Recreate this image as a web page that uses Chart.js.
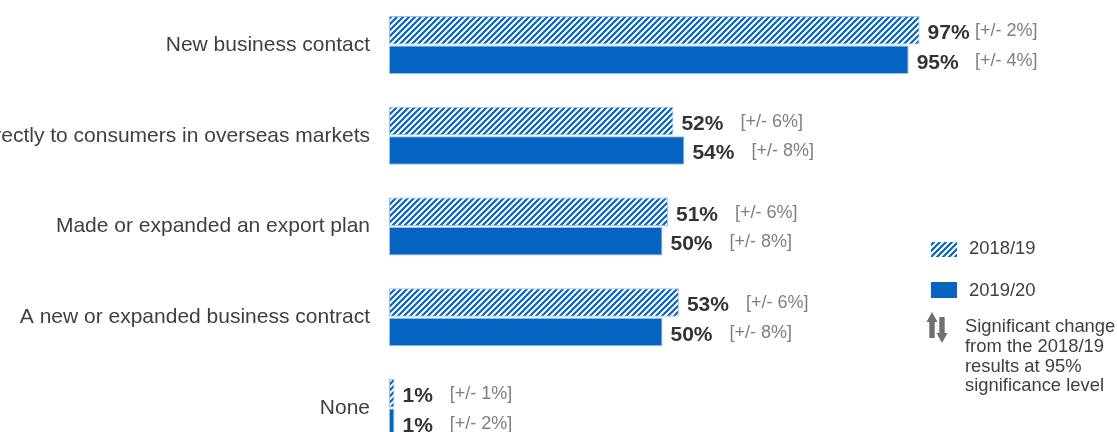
<!DOCTYPE html>
<html>
<head>
<meta charset="utf-8">
<script src="https://cdn.jsdelivr.net/npm/chart.js@4"></script>
<style>
  html, body { margin: 0; padding: 0; background: #fff; overflow: hidden; }
  /* taller than the window: the last row runs off the bottom edge */
  #wrap { position: relative; width: 1117px; height: 501px; margin-top: -24px; }
</style>
</head>
<body>
<div id="wrap"><canvas id="outcomes-chart"></canvas></div>
<script>
const categories = [
    'New business contact',
    'Sold directly to consumers in overseas markets',
    'Made or expanded an export plan',
    'A new or expanded business contract',
    'None'
];
const values1819 = [97, 52, 51, 53, 1];
const values1920 = [95, 54, 50, 50, 1];
const margins1819 = [2, 6, 6, 6, 1];
const margins1920 = [4, 8, 8, 8, 2];
const seriesNames = ['2018/19', '2019/20'];
const noteLines = ['Significant change', 'from the 2018/19', 'results at 95%', 'significance level'];

const BLUE = '#0563c1';
const EDGE = '#9dc0e8';
const FONT = '"Liberation Sans", Arial, sans-serif';
const SHIFT = 24; // matches the negative margin on #wrap

// diagonal stripe fill for the earlier year
function makeHatch(ctx) {
    const c = document.createElement('canvas');
    c.width = 6; c.height = 6;
    const p = c.getContext('2d');
    p.fillStyle = '#fff';
    p.fillRect(0, 0, 6, 6);
    p.strokeStyle = BLUE;
    p.lineWidth = 2.2;
    p.beginPath();
    p.moveTo(-1, 7); p.lineTo(7, -1);
    p.moveTo(-4, 4); p.lineTo(4, -4);
    p.moveTo(2, 10); p.lineTo(10, 2);
    p.stroke();
    return ctx.createPattern(c, 'repeat');
}

// arrow pointing up (dir = -1) or down (dir = 1), tip at (x, tipY)
function arrow(ctx, x, tipY, dir) {
    const len = 26, head = 10, hw = 5.5, sw = 2.7;
    const base = tipY - dir * len;
    const neck = tipY - dir * head;
    ctx.beginPath();
    ctx.moveTo(x, tipY);
    ctx.lineTo(x + hw, neck);
    ctx.lineTo(x + sw, neck);
    ctx.lineTo(x + sw, base);
    ctx.lineTo(x - sw, base);
    ctx.lineTo(x - sw, neck);
    ctx.lineTo(x - hw, neck);
    ctx.closePath();
    ctx.fill();
}

// value + margin labels next to each bar, and the legend box on the right
const labelsPlugin = {
    id: 'barLabels',
    afterDatasetsDraw(chart) {
        const ctx = chart.ctx;
        const margins = [margins1819, margins1920];
        ctx.save();
        ctx.textBaseline = 'middle';
        ctx.textAlign = 'left';
        chart.data.datasets.forEach((ds, di) => {
            chart.getDatasetMeta(di).data.forEach((bar, i) => {
                const x = bar.x + 8;
                ctx.font = 'bold 21px ' + FONT;
                ctx.fillStyle = '#333';
                const txt = ds.data[i] + '%';
                ctx.fillText(txt, x, bar.y + 3);
                const mx = Math.min(x + ctx.measureText(txt).width + 17, 975);
                ctx.font = '18px ' + FONT;
                ctx.fillStyle = '#7f7f7f';
                ctx.fillText('[+/- ' + margins[di][i] + '%]', mx, bar.y + 1);
            });
        });

        // legend
        const lx = 931;
        ctx.fillStyle = makeHatch(ctx);
        ctx.fillRect(lx, 242 + SHIFT, 26, 15);
        ctx.fillStyle = BLUE;
        ctx.fillRect(lx, 282 + SHIFT, 26, 16);
        ctx.font = '18.4px ' + FONT;
        ctx.fillStyle = '#404040';
        ctx.fillText(seriesNames[0], 969, 249 + SHIFT);
        ctx.fillText(seriesNames[1], 969, 291 + SHIFT);

        ctx.fillStyle = '#707070';
        arrow(ctx, 932, 312 + SHIFT, -1);
        arrow(ctx, 942, 343 + SHIFT, 1);

        ctx.fillStyle = '#404040';
        noteLines.forEach((line, k) => {
            ctx.fillText(line, 965, 327 + k * 19.8 + SHIFT);
        });
        ctx.restore();
    }
};

document.addEventListener('DOMContentLoaded', () => {
    const canvas = document.getElementById('outcomes-chart');
    const ctx = canvas.getContext('2d');
    new Chart(ctx, {
        type: 'bar',
        data: {
            labels: categories,
            datasets: [
                {
                    label: seriesNames[0],
                    data: values1819,
                    backgroundColor: makeHatch(ctx),
                    borderColor: EDGE,
                    borderWidth: 1,
                    borderSkipped: false
                },
                {
                    label: seriesNames[1],
                    data: values1920,
                    backgroundColor: BLUE,
                    borderColor: EDGE,
                    borderWidth: 1,
                    borderSkipped: false
                }
            ]
        },
        options: {
            indexAxis: 'y',
            responsive: true,
            maintainAspectRatio: false,
            animation: false,
            categoryPercentage: 0.65,
            barPercentage: 0.97,
            layout: { padding: { left: 0, right: 181, top: 0, bottom: 0 } },
            plugins: {
                legend: { display: false },
                tooltip: { enabled: false }
            },
            scales: {
                x: {
                    min: 0,
                    max: 100,
                    display: false
                },
                y: {
                    grid: { display: false },
                    border: { display: false },
                    ticks: {
                        color: '#404040',
                        padding: 11,
                        font: { family: FONT, size: 21 }
                    },
                    afterFit(scale) { scale.width = 389; }
                }
            }
        },
        plugins: [labelsPlugin]
    });
});
</script>
</body>
</html>
